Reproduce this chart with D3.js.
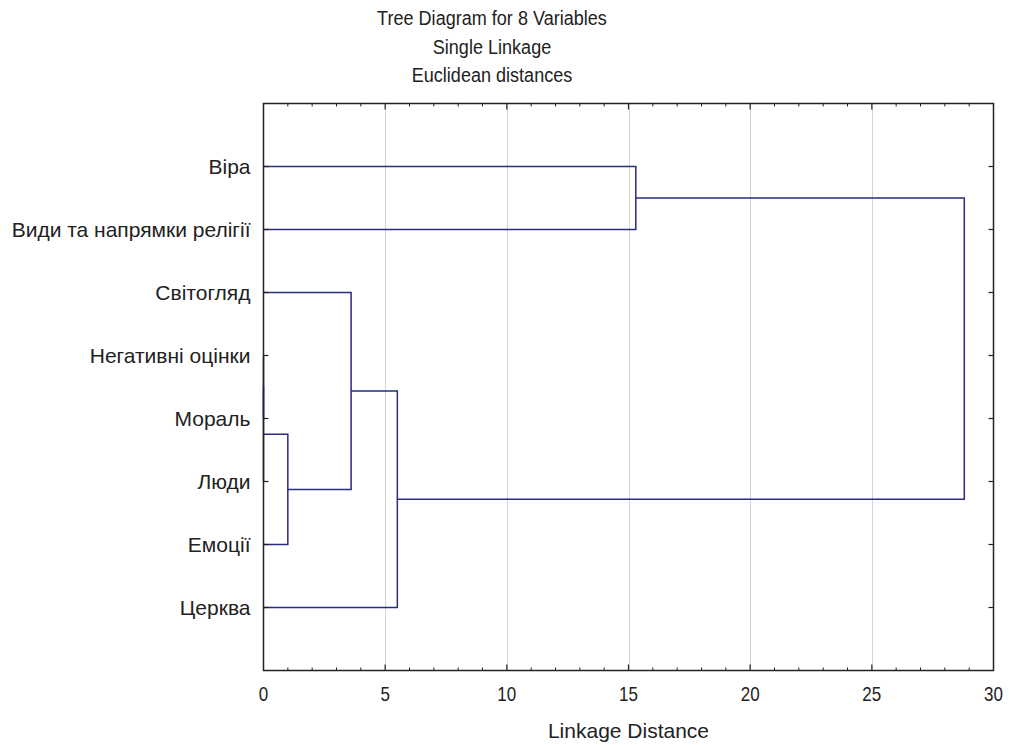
<!DOCTYPE html>
<html>
<head>
<meta charset="utf-8">
<script src="https://cdn.jsdelivr.net/npm/d3@7"></script>
<style>
  html, body { margin: 0; padding: 0; background: #fff; }
  svg { display: block; font-family: "Liberation Sans", Arial, sans-serif; }
</style>
</head>
<body>
<svg id="chart" width="1010" height="745"></svg>
<script>
// Variables in display order (top to bottom)
const leaves = ["Віра", "Види та напрямки релігії", "Світогляд", "Негативні оцінки",
                "Мораль", "Люди", "Емоції", "Церква"];

// Agglomeration steps: ids < 8 are variables, id 8+k is the cluster formed at step k
const mergeLeft   = [3, 8, 9, 2, 11, 0, 13];
const mergeRight  = [4, 5, 6, 10, 7, 1, 12];
const mergeDist   = [0, 0, 1.0, 3.6, 5.5, 15.3, 28.8];

const xTicks = [0, 5, 10, 15, 20, 25, 30];
const titleLines = ["Tree Diagram for 8 Variables", "Single Linkage", "Euclidean distances"];
const xTitle = "Linkage Distance";

const svg = d3.select("#chart");
const plot = { left: 263.5, right: 993.5, top: 103.5, bottom: 670.5 };
const textColor = "#222";

const x = d3.scaleLinear().domain([0, 30]).range([plot.left, plot.right]);
const y = d3.scalePoint().domain(d3.range(leaves.length)).range([plot.top, plot.bottom]).padding(1);

// Node positions: leaves sit at distance 0; clusters sit midway between their children
const nodeY = leaves.map((_, i) => y(i));
const nodeX = leaves.map(() => 0);
mergeDist.forEach((d, k) => {
  nodeY.push((nodeY[mergeLeft[k]] + nodeY[mergeRight[k]]) / 2);
  nodeX.push(d);
});

// Grid lines
svg.append("g").selectAll("line")
  .data(xTicks.filter(t => t > 0 && t < 30))
  .join("line")
  .attr("x1", d => Math.round(x(d)) + 0.5).attr("x2", d => Math.round(x(d)) + 0.5)
  .attr("y1", plot.top).attr("y2", plot.bottom)
  .attr("stroke", "#d4d4d4").attr("stroke-width", 1);

// Dendrogram links
const linkColor = "#2b2b80";
const links = svg.append("g").attr("fill", "none").attr("stroke", linkColor).attr("stroke-width", 1.5);
mergeDist.forEach((d, k) => {
  const a = mergeLeft[k], b = mergeRight[k];
  const xm = x(d);
  links.append("path").attr("d",
    `M${x(nodeX[a])},${nodeY[a]}H${xm}V${nodeY[b]}H${x(nodeX[b])}`);
});

// Frame
svg.append("rect")
  .attr("x", plot.left).attr("y", plot.top)
  .attr("width", plot.right - plot.left).attr("height", plot.bottom - plot.top)
  .attr("fill", "none").attr("stroke", "#222").attr("stroke-width", 1.5);

// Top and bottom axes: inward major and minor ticks
const minor = d3.range(0, 31, 1).filter(v => v % 5 !== 0);
const axisG = svg.append("g").attr("stroke", "#222").attr("stroke-width", 1.2);
[plot.bottom, plot.top].forEach(yy => {
  const dir = yy === plot.bottom ? -1 : 1;
  axisG.append("g").selectAll("line").data(xTicks.filter(t => t > 0 && t < 30)).join("line")
    .attr("x1", d => x(d)).attr("x2", d => x(d))
    .attr("y1", yy).attr("y2", yy + dir * 6);
  axisG.append("g").selectAll("line").data(minor).join("line")
    .attr("x1", d => x(d)).attr("x2", d => x(d))
    .attr("y1", yy).attr("y2", yy + dir * 3).attr("stroke-width", 1);
});

// Left and right axis ticks at each variable
[plot.left, plot.right].forEach(xx => {
  const dir = xx === plot.left ? 1 : -1;
  axisG.append("g").selectAll("line").data(d3.range(leaves.length)).join("line")
    .attr("x1", xx).attr("x2", xx + dir * 5)
    .attr("y1", d => y(d)).attr("y2", d => y(d));
});

// Text with an optional horizontal squeeze around its anchor point
function label(sel, size, squeeze) {
  return sel.attr("font-size", size).attr("fill", textColor)
    .attr("transform", function() {
      const tx = +this.getAttribute("x"), ty = +this.getAttribute("y");
      return `translate(${tx},${ty}) scale(${squeeze},1) translate(${-tx},${-ty})`;
    });
}

// X tick labels
svg.append("g").selectAll("text").data(xTicks).join("text")
  .attr("x", d => x(d)).attr("y", 701)
  .attr("text-anchor", "middle")
  .text(d => d)
  .call(label, 20, 0.85);

// Variable labels
svg.append("g").selectAll("text").data(leaves).join("text")
  .attr("x", plot.left - 13).attr("y", (d, i) => y(i))
  .attr("dy", "0.35em")
  .attr("text-anchor", "end")
  .text(d => d)
  .call(label, 21, 1.0);

// Axis title
svg.append("text")
  .attr("x", (plot.left + plot.right) / 2).attr("y", 738)
  .attr("text-anchor", "middle")
  .text(xTitle)
  .call(label, 21, 1.0);

// Chart title
svg.append("g").selectAll("text").data(titleLines).join("text")
  .attr("x", 492).attr("y", (d, i) => 25.5 + i * 28.5)
  .attr("text-anchor", "middle")
  .text(d => d)
  .call(label, 21, 0.86);
</script>
</body>
</html>
